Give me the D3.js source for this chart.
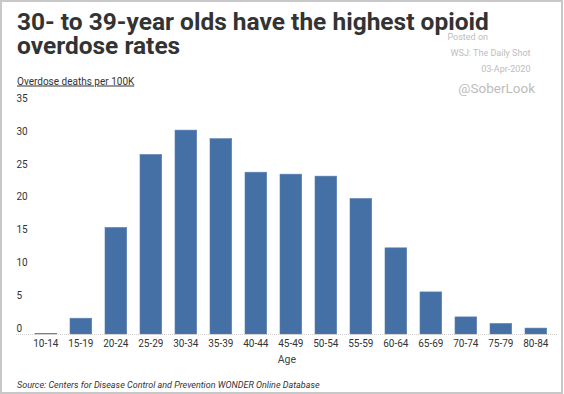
<!DOCTYPE html>
<html>
<head>
<meta charset="utf-8">
<script src="https://cdn.jsdelivr.net/npm/d3@7"></script>
<style>
  body { margin: 0; background: #fff; }
  svg { display: block; font-family: Roboto, "Noto Sans", sans-serif; }
</style>
</head>
<body>
<svg id="chart" width="564" height="394"></svg>
<script>
// data
var ageGroups = ["10-14", "15-19", "20-24", "25-29", "30-34", "35-39", "40-44", "45-49",
                 "50-54", "55-59", "60-64", "65-69", "70-74", "75-79", "80-84"];
var deathRates = [0.1, 2.4, 16.2, 27.3, 31.0, 29.7, 24.6, 24.3, 24.0, 20.6, 13.1, 6.4, 2.6, 1.6, 0.9];
var yTicks = [0, 5, 10, 15, 20, 25, 30, 35];

var titleLines = ["30- to 39-year olds have the highest opioid", "overdose rates"];
var yTitle = "Overdose deaths per 100K";
var xTitle = "Age";
var sourceText = "Source: Centers for Disease Control and Prevention WONDER Online Database";

var svg = d3.select("#chart");

// frame
svg.append("rect")
    .attr("x", 1).attr("y", 1)
    .attr("width", 561).attr("height", 392)
    .attr("fill", "none")
    .attr("stroke", "#c8c8c8")
    .attr("stroke-width", 2);

var x = d3.scaleBand()
    .domain(ageGroups)
    .range([28.35, 553.35])
    .paddingInner(0.38)
    .paddingOuter(0.19);

var y = d3.scaleLinear()
    .domain([0, 35])
    .range([334, 103.8]);

// title, one text per line
svg.selectAll(".title")
    .data(titleLines)
    .enter().append("text")
      .attr("class", "title")
      .attr("x", 17)
      .attr("y", function(d, i) { return 29.5 + i * 24.5; })
      .attr("font-size", 24.5)
      .attr("font-weight", "bold")
      .attr("fill", "#333")
      .text(function(d) { return d; });

// watermark
var wm = [
  {t: "Posted on", x: 488, y: 40, s: 9},
  {t: "WSJ: The Daily Shot", x: 530.5, y: 56, s: 9},
  {t: "03-Apr-2020", x: 530.5, y: 72, s: 9},
  {t: "@SoberLook", x: 535, y: 93, s: 13.5}
];
svg.selectAll(".wm")
    .data(wm)
    .enter().append("text")
      .attr("class", "wm")
      .attr("x", function(d) { return d.x; })
      .attr("y", function(d) { return d.y; })
      .attr("text-anchor", "end")
      .attr("font-size", function(d) { return d.s; })
      .attr("fill", "#bdbdbd")
      .text(function(d) { return d.t; });

// y axis title (underlined)
svg.append("text")
    .attr("x", 17)
    .attr("y", 84.5)
    .attr("font-size", 10)
    .attr("fill", "#333")
    .attr("text-decoration", "underline")
    .text(yTitle);

// y tick labels (sit just above value line)
svg.append("g")
    .selectAll("text")
    .data(yTicks)
    .enter().append("text")
      .attr("x", 16.5)
      .attr("y", function(d) { return y(d) - 2; })
      .attr("font-size", 10)
      .attr("fill", "#333")
      .text(function(d) { return d; });

// bars
svg.append("g")
    .selectAll("rect")
    .data(deathRates)
    .enter().append("rect")
      .attr("x", function(d, i) { return x(ageGroups[i]); })
      .attr("y", function(d) { return y(d); })
      .attr("width", x.bandwidth())
      .attr("height", function(d) { return y(0) - y(d); })
      .attr("fill", "#4470a6")
      .attr("stroke", "#5b80b2")
      .attr("stroke-width", 0.6);

// baseline
svg.append("line")
    .attr("x1", 16).attr("x2", 557)
    .attr("y1", 334.5).attr("y2", 334.5)
    .attr("stroke", "#cfcfcf")
    .attr("stroke-dasharray", "1,1");

// x axis labels
var xAxis = d3.axisBottom(x).tickSize(0).tickPadding(0);
var gx = svg.append("g")
    .attr("transform", "translate(0,347)")
    .call(xAxis);
gx.select(".domain").remove();
gx.selectAll("text")
    .attr("font-size", 10)
    .attr("font-family", "Roboto, sans-serif")
    .attr("fill", "#333")
    .attr("dy", 0);

svg.append("text")
    .attr("x", (x.range()[0] + x.range()[1]) / 2 - 4)
    .attr("y", 363)
    .attr("text-anchor", "middle")
    .attr("font-size", 10.5)
    .attr("fill", "#444")
    .text(xTitle);

svg.append("text")
    .attr("x", 17)
    .attr("y", 388)
    .attr("font-size", 9)
    .attr("font-style", "italic")
    .attr("fill", "#333")
    .text(sourceText);
</script>
</body>
</html>
